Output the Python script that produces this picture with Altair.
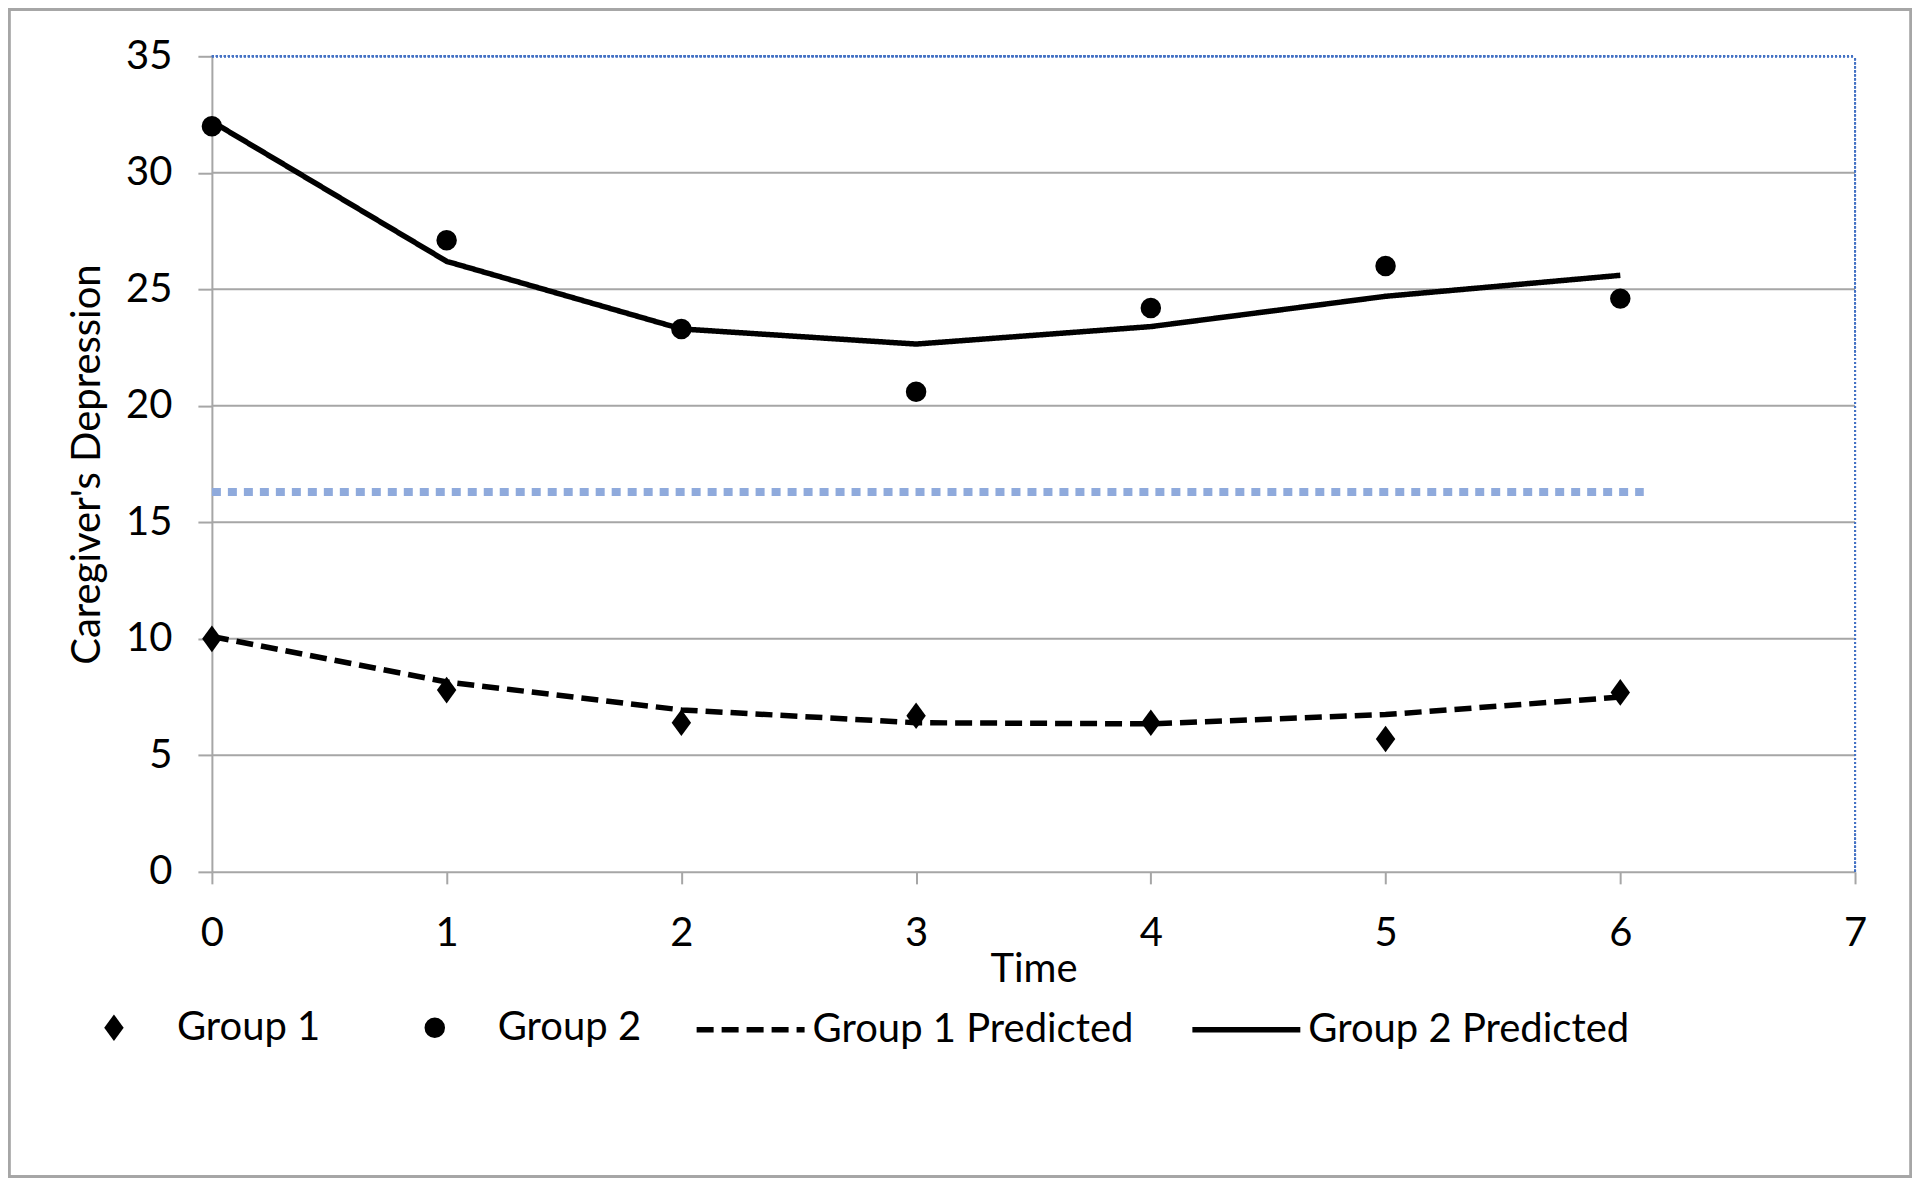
import altair as alt
import pandas as pd

# ---- data ----
times = [0, 1, 2, 3, 4, 5, 6]
group1 = [10.0, 7.8, 6.4, 6.7, 6.4, 5.7, 7.7]
group2 = [32.0, 27.1, 23.3, 20.6, 24.2, 26.0, 24.6]
group1_pred = [10.1, 8.15, 6.95, 6.4, 6.35, 6.75, 7.5]
group2_pred = [32.2, 26.2, 23.3, 22.65, 23.4, 24.7, 25.6]
cutoff_value = 16.3
cutoff_x = [0, 6.1]
x_ticks = [0, 1, 2, 3, 4, 5, 6, 7]
y_ticks = [0, 5, 10, 15, 20, 25, 30, 35]
grid_values = [5, 10, 15, 20, 25, 30]

FONT = "Lato"
GRAY = "#A6A6A6"

points = pd.DataFrame({
    "Time": times * 2,
    "value": group1 + group2,
    "series": ["Group 1"] * 7 + ["Group 2"] * 7,
})
lines = pd.DataFrame({
    "Time": times * 2,
    "value": group1_pred + group2_pred,
    "series": ["Group 1 Predicted"] * 7 + ["Group 2 Predicted"] * 7,
})
grid_df = pd.DataFrame({"y": grid_values})
cut_df = pd.DataFrame({"x": [cutoff_x[0]], "x2": [cutoff_x[1]], "y": [cutoff_value]})

xscale = alt.Scale(domain=[0, 7], nice=False, zero=False)
yscale = alt.Scale(domain=[0, 35], nice=False)

x_axis = alt.Axis(values=x_ticks, grid=False, title="Time", labelPadding=30,
                  titlePadding=-4, tickSize=12, format="d", labelFlush=False)
y_axis = alt.Axis(values=y_ticks, grid=False, title="Caregiver's Depression",
                  labelPadding=26, titlePadding=18, tickSize=14, format="d",
                  labelFlush=False)

grid = alt.Chart(grid_df).mark_rule(color=GRAY, strokeWidth=2).encode(
    y=alt.Y("y:Q", scale=yscale, axis=y_axis),
    x=alt.datum(0, scale=xscale, axis=x_axis),
    x2=alt.datum(7),
)

top_border = alt.Chart(grid_df).mark_rule(color="#4472C4", strokeWidth=2, strokeDash=[2, 2]).encode(
    y=alt.datum(35),
    x=alt.datum(0),
    x2=alt.datum(7),
)
right_border = alt.Chart(grid_df).mark_rule(color="#4472C4", strokeWidth=2, strokeDash=[2, 2]).encode(
    x=alt.datum(7),
    y=alt.datum(0),
    y2=alt.datum(35),
)

cutoff = alt.Chart(cut_df).mark_rule(color="#8FAADC", strokeWidth=8, strokeDash=[9, 7]).encode(
    x=alt.X("x:Q", scale=xscale),
    x2="x2:Q",
    y=alt.Y("y:Q", scale=yscale),
)

line_layer = alt.Chart(lines).mark_line(strokeWidth=5.5, color="black").encode(
    x=alt.X("Time:Q", scale=xscale),
    y=alt.Y("value:Q", scale=yscale),
    strokeDash=alt.StrokeDash(
        "series:N",
        scale=alt.Scale(domain=["Group 1 Predicted", "Group 2 Predicted"],
                        range=[[17, 8], [1, 0]]),
        legend=alt.Legend(
            title=None, orient="none", direction="horizontal",
            legendX=482, legendY=917,
            symbolType="stroke", symbolSize=11664, symbolStrokeWidth=5.5,
            symbolStrokeColor="black", symbolDash=[17, 8],
            labelFont=FONT, labelFontSize=40, labelColor="black",
            labelOffset=5, columnPadding=47, labelLimit=600,
        ),
    ),
)

diamond = "M0,-1.3L0.95,0L0,1.3L-0.95,0Z"
point_layer = alt.Chart(points).mark_point(filled=True, color="black", opacity=1, size=420).encode(
    x=alt.X("Time:Q", scale=xscale),
    y=alt.Y("value:Q", scale=yscale),
    shape=alt.Shape(
        "series:N",
        scale=alt.Scale(domain=["Group 1", "Group 2"], range=[diamond, "circle"]),
        legend=alt.Legend(
            title=None, orient="none", direction="horizontal",
            legendX=-118, legendY=952,
            symbolFillColor="black", symbolStrokeColor="black", symbolSize=420,
            symbolOpacity=1,
            labelFont=FONT, labelFontSize=40, labelColor="black",
            labelOffset=43, columnPadding=94, labelLimit=600,
        ),
    ),
)

frame = alt.Chart(grid_df).mark_rect(fill="transparent", stroke=GRAY, strokeWidth=2.5).encode(
    x=alt.value(-203), x2=alt.value(1700),
    y=alt.value(-47), y2=alt.value(1121),
)

chart = alt.layer(
    frame, grid, top_border, right_border, cutoff, line_layer, point_layer
).resolve_legend(shape="independent", strokeDash="independent").properties(
    width=1644, height=816,
    padding={"left": 204, "top": 48, "right": 57, "bottom": 307},
    autosize=alt.AutoSizeParams(type="none"),
    background="white",
).configure_view(strokeWidth=0).configure_axis(
    domainColor=GRAY, domainWidth=2, tickColor=GRAY, tickWidth=2,
    labelFont=FONT, labelFontSize=40, labelColor="black",
    titleFont=FONT, titleFontSize=40, titleFontWeight="normal", titleColor="black",
)

chart.save("out.html", embed_options={"renderer": "svg", "actions": False})
